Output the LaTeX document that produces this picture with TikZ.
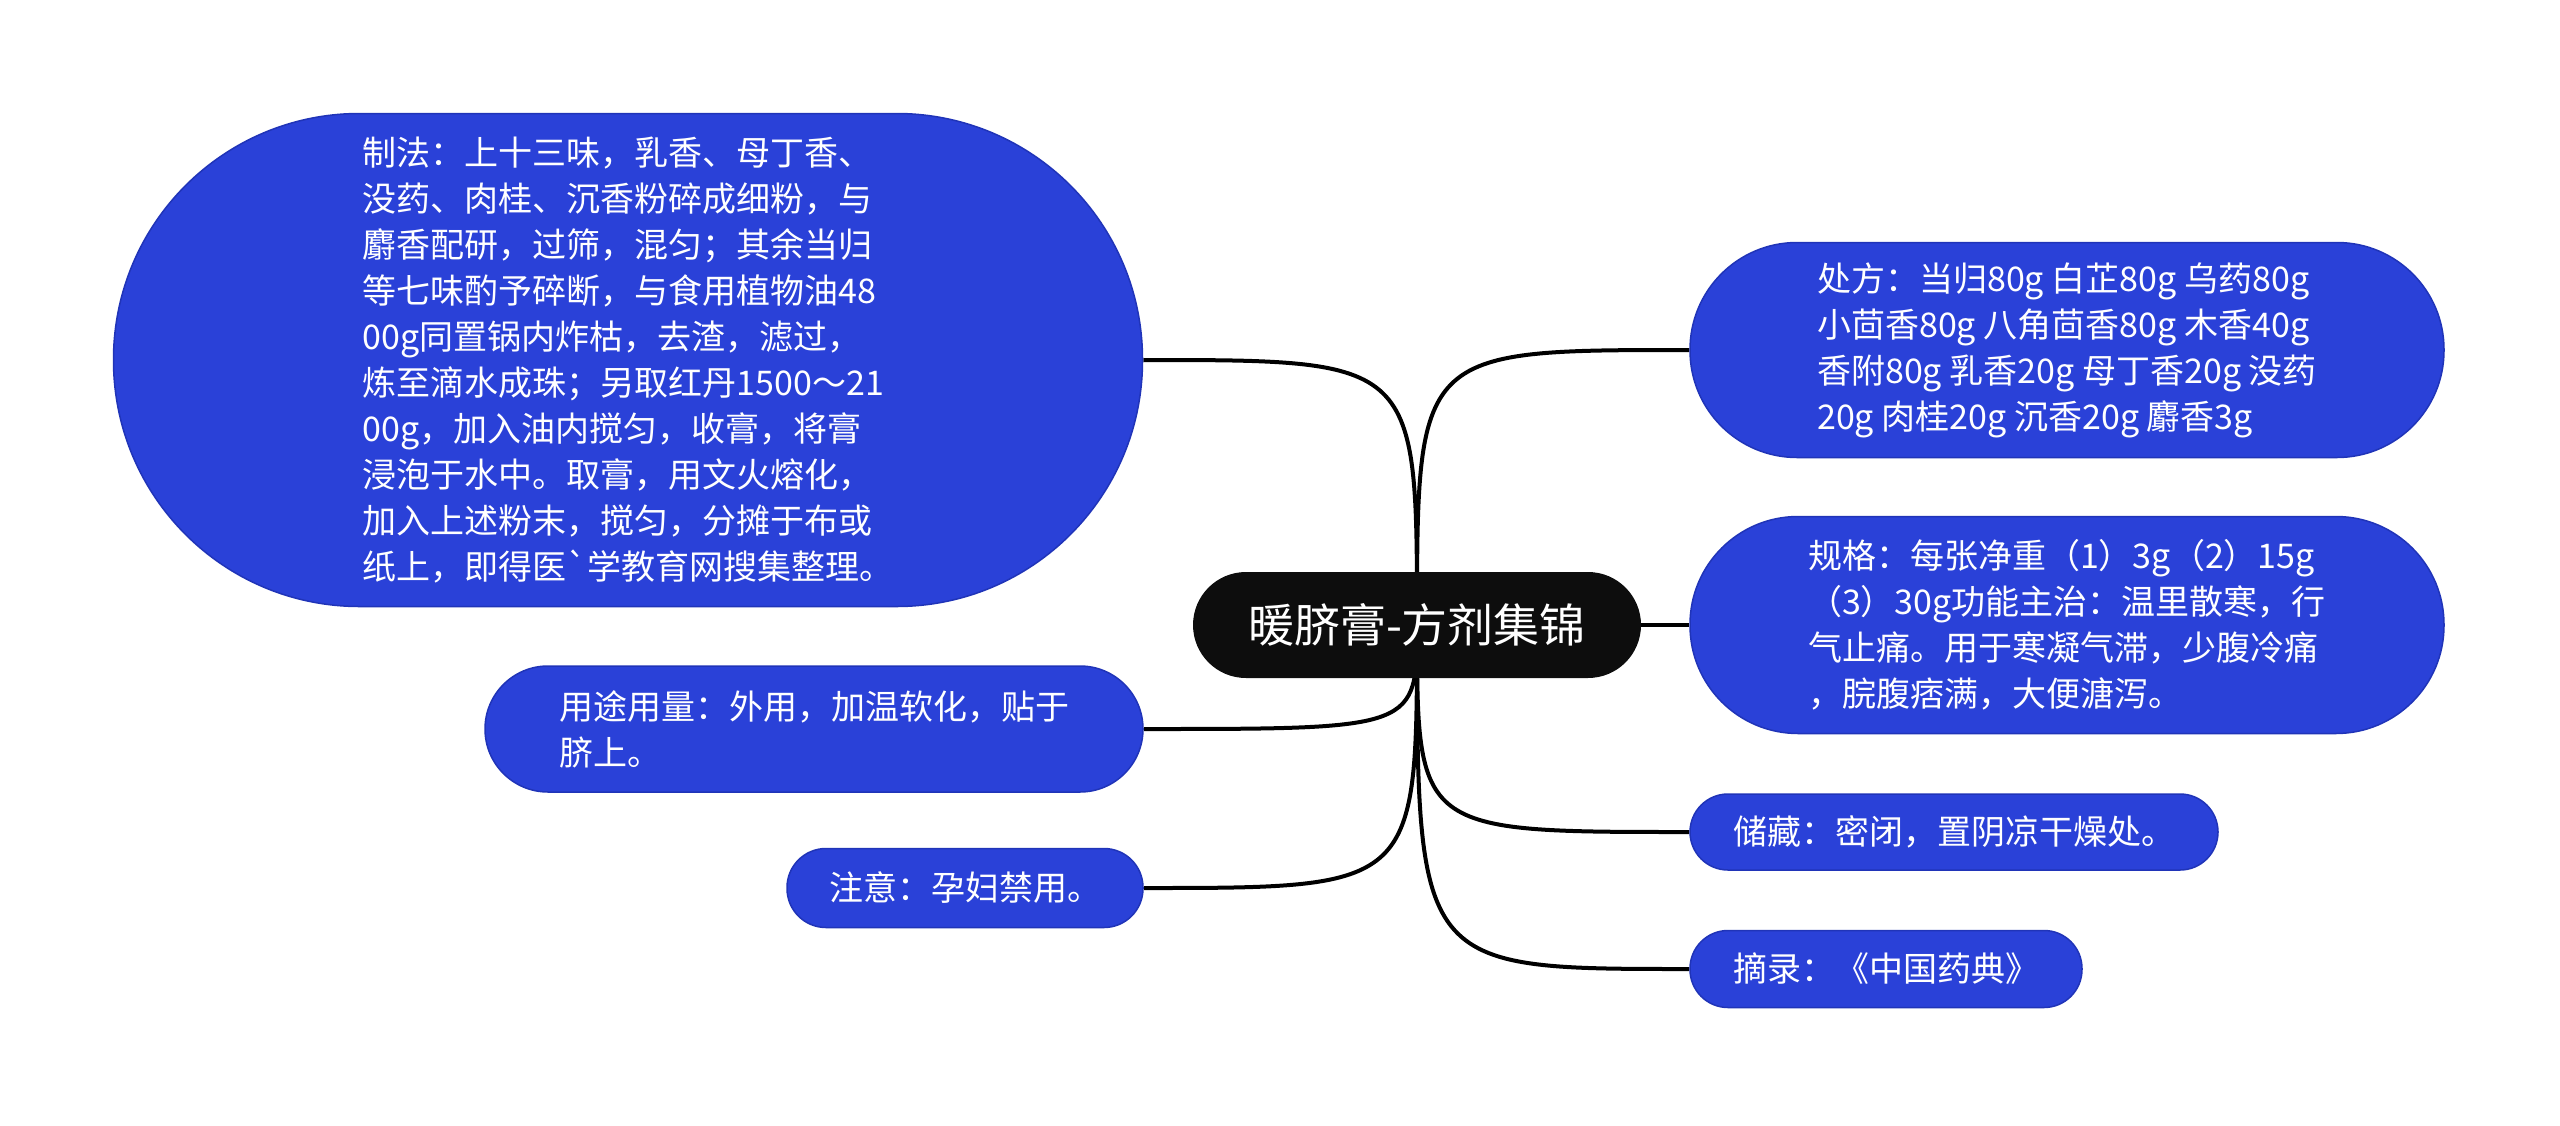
\documentclass[tikz,border=0pt]{standalone}
\usepackage{fontspec}
\newfontfamily\cjk{Noto Sans CJK SC}
\usetikzlibrary{backgrounds}

\definecolor{rootblack}{HTML}{0D0D0D}
\definecolor{topicblue}{HTML}{2A41D8}
\definecolor{topicedge}{HTML}{2034B8}

\tikzset{
  root/.style={fill=rootblack, text=white, inner sep=0pt,
    font=\cjk\fontsize{46}{56}\selectfont},
  topic/.style={fill=topicblue, draw=topicedge, line width=1.5pt,
    text=white, align=left, inner sep=0pt,
    font=\cjk\fontsize{34}{46}\selectfont},
  link/.style={line width=4pt, black}
}

\begin{document}
\begin{tikzpicture}[x=1pt,y=-1pt]
    \useasboundingbox (0,0) rectangle (2560,1125);

    % Central topic
    \node[root, minimum width=448pt, minimum height=106pt, rounded corners=53pt]
        (root) at (1417,625) {暖脐膏-方剂集锦};

    % Left branches
    \node[topic, minimum width=1029pt, minimum height=493pt, rounded corners=246pt]
        (zf) at (628,360) {制法：上十三味，乳香、母丁香、\\
        没药、肉桂、沉香粉碎成细粉，与\\
        麝香配研，过筛，混匀；其余当归\\
        等七味酌予碎断，与食用植物油48\\
        00g同置锅内炸枯，去渣，滤过，\\
        炼至滴水成珠；另取红丹1500～21\\
        00g，加入油内搅匀，收膏，将膏\\
        浸泡于水中。取膏，用文火熔化，\\
        加入上述粉末，搅匀，分摊于布或\\
        纸上，即得医\textasciigrave 学教育网搜集整理。};
    \node[topic, minimum width=658pt, minimum height=126pt, rounded corners=63pt]
        (yt) at (814,729) {用途用量：外用，加温软化，贴于\\脐上。};
    \node[topic, minimum width=356pt, minimum height=79pt, rounded corners=39pt]
        (zy) at (965,888) {注意：孕妇禁用。};

    % Right branches
    \node[topic, minimum width=754pt, minimum height=215pt, rounded corners=107pt]
        (cf) at (2067,350) {处方：当归80g 白芷80g 乌药80g\\
        小茴香80g 八角茴香80g 木香40g\\
        香附80g 乳香20g 母丁香20g 没药\\
        20g 肉桂20g 沉香20g 麝香3g};
    \node[topic, minimum width=754pt, minimum height=217pt, rounded corners=108pt]
        (gg) at (2067,625) {规格：每张净重（1）3g（2）15g\\
        （3）30g功能主治：温里散寒，行\\
        气止痛。用于寒凝气滞，少腹冷痛\\
        ，脘腹痞满，大便溏泻。};
    \node[topic, minimum width=528pt, minimum height=76pt, rounded corners=38pt]
        (cc) at (1954,832) {储藏：密闭，置阴凉干燥处。};
    \node[topic, minimum width=392pt, minimum height=77pt, rounded corners=38pt]
        (zl) at (1886,969) {摘录：《中国药典》};

    % Connectors
    \begin{scope}[on background layer]
        \draw[link] (root.center) .. controls (root.center |- zf.east) .. (zf.east);
        \draw[link] (root.center) .. controls (root.center |- yt.east) .. (yt.east);
        \draw[link] (root.center) .. controls (root.center |- zy.east) .. (zy.east);
        \draw[link] (root.center) .. controls (root.center |- cf.west) .. (cf.west);
        \draw[link] (root.center) -- (gg.west);
        \draw[link] (root.center) .. controls (root.center |- cc.west) .. (cc.west);
        \draw[link] (root.center) .. controls (root.center |- zl.west) .. (zl.west);
    \end{scope}
\end{tikzpicture}
\end{document}
